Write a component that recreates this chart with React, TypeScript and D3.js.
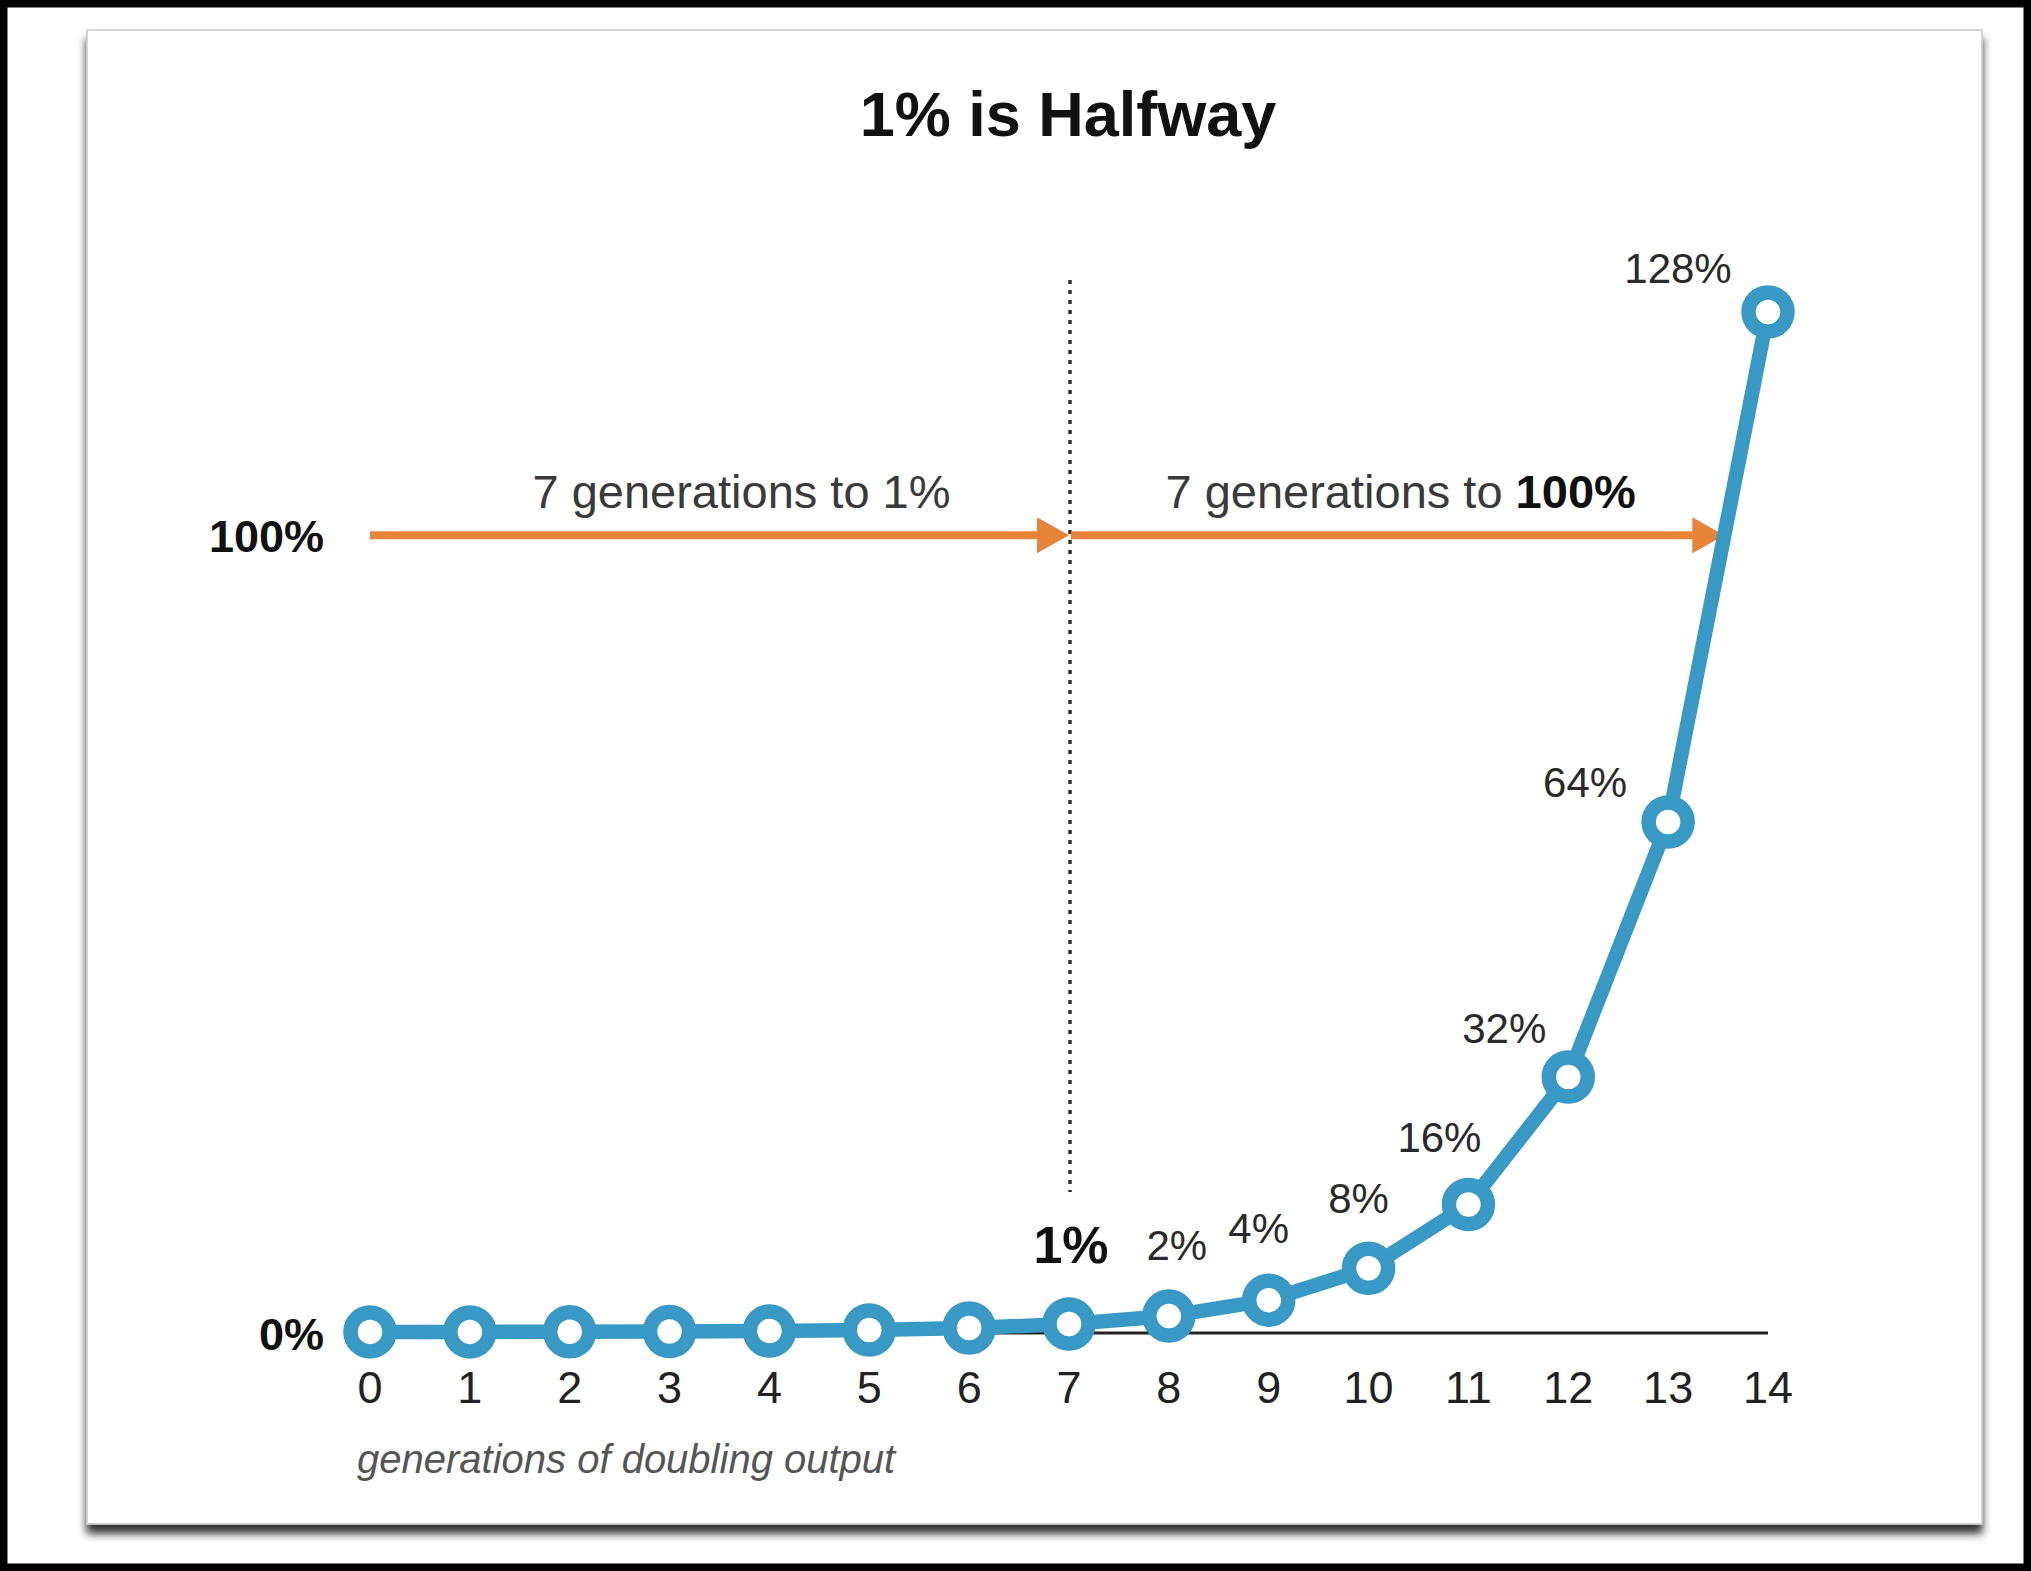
import * as d3 from 'd3';

const generations = [0, 1, 2, 3, 4, 5, 6, 7, 8, 9, 10, 11, 12, 13, 14];
const shares = [0.0078, 0.0156, 0.031, 0.0625, 0.125, 0.25, 0.5, 1, 2, 4, 8, 16, 32, 64, 128];
const pointLabels = ['', '', '', '', '', '', '', '1%', '2%', '4%', '8%', '16%', '32%', '64%', '128%'];
const yMarks = [0, 100];
const yMarkLabels = ['0%', '100%'];
const title = '1% is Halfway';
const xTitle = 'generations of doubling output';
const halfGen = 7;
const target = 100;

const W = 2031;
const H = 1571;
const BLUE = '#3899c4';
const ORANGE = '#e8833a';
const FONT = '"Liberation Sans", Arial, Helvetica, sans-serif';

// nudges for the point labels, so they sit up-left of the curve like the original
const labelNudge: Record<number, [number, number]> = {
  7: [2, -61], 8: [8, -56], 9: [-10, -57], 10: [-10, -55],
  11: [-29, -53], 12: [-64, -34], 13: [-83, -25], 14: [-90, -29],
};

export default function App() {
  const x = d3.scaleLinear().domain([0, 14]).range([370, 1768]);
  const y = d3.scaleLinear().domain([0, 128]).range([1332, 312]);

  const pts = generations.map((g, i) => ({ g, v: shares[i], label: pointLabels[i] }));
  const line = d3.line<{ g: number; v: number }>().x(d => x(d.g)).y(d => y(d.v));

  // where the curve crosses the 100% level
  const k = shares.findIndex(v => v >= target);
  const gCross = generations[k - 1] + (target - shares[k - 1]) / (shares[k] - shares[k - 1]);

  const ay = y(target);
  const a0 = x(generations[0]);
  const a1 = x(halfGen);
  const a2 = x(gCross);

  const arrow = (from: number, to: number) => {
    const hl = 32, hw = 18;
    return (
      <g>
        <line x1={from} x2={to - hl + 2} y1={ay} y2={ay} stroke={ORANGE} strokeWidth={8} />
        <path d={`M${to},${ay} L${to - hl},${ay - hw} L${to - hl},${ay + hw} Z`} fill={ORANGE} />
      </g>
    );
  };

  return (
    <svg width={W} height={H} style={{ position: 'absolute', left: 0, top: 0, display: 'block' }} fontFamily={FONT}>
      <defs>
        <filter id="cardShadow" x="-5%" y="-5%" width="110%" height="112%">
          <feDropShadow dx="0" dy="9" stdDeviation="4" floodColor="#000" floodOpacity="0.8" />
        </filter>
      </defs>
      <rect x={0} y={0} width={W} height={H} fill="#fff" />
      <rect x={3.5} y={3.5} width={W - 7} height={H - 7} fill="none" stroke="#000" strokeWidth={8} />

      <rect x={87} y={30} width={1895} height={1494} fill="#fff" stroke="#c8c8c8" strokeWidth={1.5} filter="url(#cardShadow)" />

      <text x={1068} y={136} textAnchor="middle" fontSize={63} fontWeight="bold" fill="#111">{title}</text>

      {/* dotted halfway marker */}
      <line x1={x(halfGen) + 1} x2={x(halfGen) + 1} y1={280} y2={1192} stroke="#333" strokeWidth={3.5} strokeDasharray="4 6" />

      {/* zero line */}
      <line x1={x(0)} x2={x(14)} y1={y(0) + 1} y2={y(0) + 1} stroke="#222" strokeWidth={3} />

      {arrow(a0, a1)}
      {arrow(a1 + 2, a2)}

      <text x={(a0 + a1) / 2 + 22} y={508} textAnchor="middle" fontSize={47} fill="#3a3a3a">
        {`${halfGen} generations to 1%`}
      </text>
      <text x={(a1 + a2) / 2 + 4} y={508} textAnchor="middle" fontSize={47} fill="#3a3a3a">
        {`${halfGen} generations to `}<tspan fontWeight="bold" fill="#111">100%</tspan>
      </text>

      {yMarks.map((m, i) => (
        <text key={m} x={324} y={y(m) + (m === 0 ? 18 : 17)} textAnchor="end" fontSize={45} fontWeight="bold" fill="#111">
          {yMarkLabels[i]}
        </text>
      ))}

      <path d={line(pts) || ''} fill="none" stroke={BLUE} strokeWidth={14.5} strokeLinejoin="round" />
      {pts.map(p => (
        <circle key={p.g} cx={x(p.g)} cy={y(p.v)} r={19.5} fill="#fff" stroke={BLUE} strokeWidth={14.5} />
      ))}

      {pts.filter(p => p.label).map(p => {
        const [dx, dy] = labelNudge[p.g] || [0, -50];
        const isHalf = p.g === halfGen;
        return (
          <text key={'l' + p.g} x={x(p.g) + dx} y={y(p.v) + dy} textAnchor="middle"
            fontSize={isHalf ? 52 : 42} fontWeight={isHalf ? 'bold' : 'normal'} fill={isHalf ? '#111' : '#2a2a2a'}>
            {p.label}
          </text>
        );
      })}

      {generations.map(g => (
        <text key={'t' + g} x={x(g)} y={1403} textAnchor="middle" fontSize={45} fill="#222">{String(g)}</text>
      ))}

      <text x={357} y={1473} fontSize={40} fontStyle="italic" fill="#555">{xTitle}</text>
    </svg>
  );
}
